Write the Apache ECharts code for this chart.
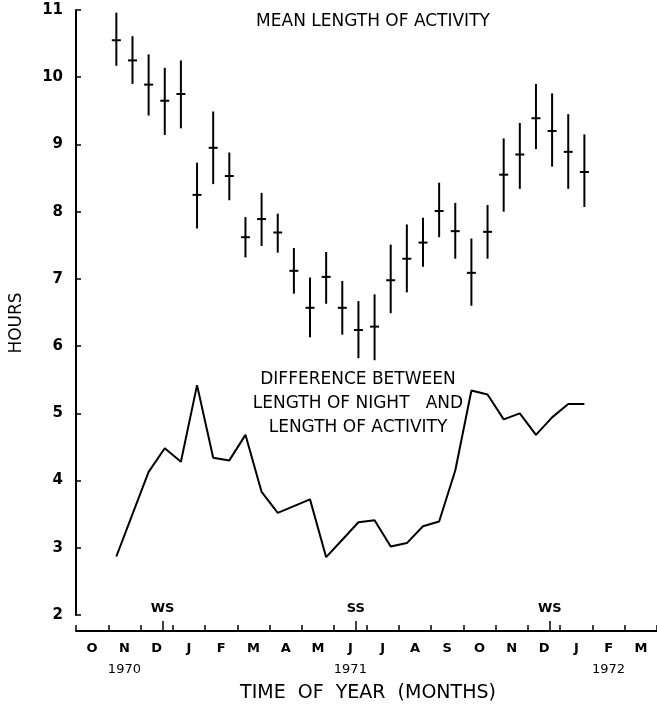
<!DOCTYPE html>
<html>
<head>
<meta charset="utf-8">
<script src="https://cdn.jsdelivr.net/npm/echarts@6/dist/echarts.min.js"></script>
<style>
  html, body { margin: 0; padding: 0; background: #fff; }
  #chart { width: 657px; height: 712px; }
</style>
</head>
<body>
<div id="chart"></div>
<script>
// Time in months counted from 1 October 1970
var sampleMonths = [1.25, 1.75, 2.25, 2.75, 3.25, 3.75, 4.25, 4.75, 5.25, 5.75,
                    6.25, 6.75, 7.25, 7.75, 8.25, 8.75, 9.25, 9.75, 10.25, 10.75,
                    11.25, 11.75, 12.25, 12.75, 13.25, 13.75, 14.25, 14.75, 15.25, 15.75];
var meanActivity = [10.55, 10.25, 9.89, 9.65, 9.75, 8.25, 8.95, 8.53, 7.62, 7.89,
                    7.69, 7.12, 6.57, 7.03, 6.57, 6.24, 6.29, 6.98, 7.30, 7.54,
                    8.01, 7.71, 7.09, 7.70, 8.55, 8.85, 9.39, 9.20, 8.89, 8.59];
var activityUpper = [10.96, 10.61, 10.34, 10.14, 10.25, 8.73, 9.49, 8.88, 7.92, 8.28,
                     7.97, 7.46, 7.02, 7.40, 6.97, 6.67, 6.77, 7.51, 7.81, 7.91,
                     8.43, 8.13, 7.60, 8.10, 9.09, 9.32, 9.90, 9.76, 9.45, 9.15];
var activityLower = [10.17, 9.90, 9.43, 9.14, 9.24, 7.75, 8.41, 8.17, 7.32, 7.49,
                     7.39, 6.78, 6.13, 6.63, 6.17, 5.82, 5.79, 6.49, 6.80, 7.18,
                     7.62, 7.30, 6.60, 7.30, 8.00, 8.34, 8.93, 8.67, 8.34, 8.07];
var nightMinusActivity = [2.87, 3.50, 4.13, 4.48, 4.28, 5.42, 4.34, 4.30, 4.68, 3.83,
                          3.52, 3.62, 3.72, 2.86, 3.12, 3.38, 3.41, 3.02, 3.07, 3.32,
                          3.39, 4.15, 5.34, 5.28, 4.91, 5.00, 4.68, 4.94, 5.14, 5.14];
var monthLabels = ['O', 'N', 'D', 'J', 'F', 'M', 'A', 'M', 'J', 'J', 'A', 'S', 'O', 'N', 'D', 'J', 'F', 'M'];
var yearLabels = ['', '1970', '', '', '', '', '', '', '1971', '', '', '', '', '', '', '', '1972', ''];
var solsticeMonths = [2.68, 8.67, 14.68];
var solsticeLabels = ['WS', 'SS', 'WS'];

var FONT = '"DejaVu Sans", "Liberation Sans", sans-serif';
var chart = echarts.init(document.getElementById('chart'), null, { renderer: 'canvas' });

var errData = sampleMonths.map(function (m, i) {
  return [m, meanActivity[i], activityLower[i], activityUpper[i]];
});
var lineData = sampleMonths.map(function (m, i) { return [m, nightMinusActivity[i]]; });

var option = {
  backgroundColor: '#fff',
  animation: false,
  grid: { left: 74, top: 10, width: 585, height: 605, containLabel: false },
  xAxis: [
    {
      type: 'value', min: 0, max: 18, interval: 1, position: 'bottom', offset: 16,
      axisLine: { show: true, lineStyle: { color: '#000', width: 2 } },
      axisTick: { show: true, inside: true, length: 6, lineStyle: { color: '#000', width: 1.5 } },
      axisLabel: { show: false }, splitLine: { show: false }
    },
    {
      type: 'category', data: monthLabels, position: 'bottom', offset: 16, boundaryGap: true,
      axisLine: { show: false }, axisTick: { show: false }, splitLine: { show: false },
      axisLabel: { interval: 0, margin: 11, color: '#000', fontFamily: FONT, fontSize: 13, fontWeight: 'bold' }
    },
    {
      type: 'category', data: yearLabels, position: 'bottom', offset: 16, boundaryGap: true,
      axisLine: { show: false }, axisTick: { show: false }, splitLine: { show: false },
      axisLabel: { interval: 0, margin: 32, color: '#000', fontFamily: FONT, fontSize: 13 }
    },
    {
      type: 'value', min: 0, max: 18, position: 'bottom', offset: 16,
      axisLine: { show: false }, splitLine: { show: false },
      axisTick: { show: true, inside: true, length: 10, customValues: solsticeMonths, lineStyle: { color: '#000', width: 1.5 } },
      axisLabel: {
        show: true, inside: true, margin: 16, customValues: solsticeMonths,
        color: '#000', fontFamily: FONT, fontSize: 13, fontWeight: 'bold',
        formatter: function (v) {
          var idx = solsticeMonths.indexOf(v);
          return idx >= 0 ? solsticeLabels[idx] : '';
        }
      }
    }
  ],
  yAxis: {
    type: 'value', min: 2, max: 11, interval: 1, offset: 7,
    name: 'HOURS', nameLocation: 'middle', nameRotate: 90, nameGap: 44,
    nameTextStyle: { color: '#000', fontFamily: FONT, fontSize: 17, padding: [0, 21, 0, 0] },
    axisLine: { show: true, lineStyle: { color: '#000', width: 2 } },
    axisTick: { show: true, inside: true, length: 5, lineStyle: { color: '#000', width: 1.5 } },
    axisLabel: { margin: 6, color: '#000', fontFamily: FONT, fontSize: 15, fontWeight: 'bold' },
    splitLine: { show: false }
  },
  series: [
    {
      type: 'custom', name: 'Mean length of activity', xAxisIndex: 0, yAxisIndex: 0,
      data: errData,
      renderItem: function (params, api) {
        var x = api.value(0);
        var c = api.coord([x, api.value(1)]);
        var lo = api.coord([x, api.value(2)]);
        var hi = api.coord([x, api.value(3)]);
        var half = 4.5;
        return {
          type: 'group',
          children: [
            { type: 'line', shape: { x1: lo[0], y1: lo[1], x2: hi[0], y2: hi[1] },
              style: { stroke: '#000', lineWidth: 2 } },
            { type: 'line', shape: { x1: c[0] - half, y1: c[1], x2: c[0] + half, y2: c[1] },
              style: { stroke: '#000', lineWidth: 2 } }
          ]
        };
      }
    },
    {
      type: 'line', name: 'Difference', xAxisIndex: 0, yAxisIndex: 0,
      data: lineData, symbol: 'none', smooth: false,
      lineStyle: { color: '#000', width: 2 }
    }
  ],
  graphic: [
    { type: 'text', x: 373, y: 22, style: { text: 'MEAN LENGTH OF ACTIVITY', fill: '#000', font: '17px ' + FONT, align: 'center', verticalAlign: 'middle' } },
    { type: 'text', x: 358, y: 380, style: { text: 'DIFFERENCE BETWEEN', fill: '#000', font: '17px ' + FONT, align: 'center', verticalAlign: 'middle' } },
    { type: 'text', x: 358, y: 404, style: { text: 'LENGTH OF NIGHT   AND', fill: '#000', font: '17px ' + FONT, align: 'center', verticalAlign: 'middle' } },
    { type: 'text', x: 358, y: 428, style: { text: 'LENGTH OF ACTIVITY', fill: '#000', font: '17px ' + FONT, align: 'center', verticalAlign: 'middle' } },
    { type: 'text', x: 368, y: 693, style: { text: 'TIME  OF  YEAR  (MONTHS)', fill: '#000', font: '19px ' + FONT, align: 'center', verticalAlign: 'middle' } }
  ]
};
chart.setOption(option);
</script>
</body>
</html>
